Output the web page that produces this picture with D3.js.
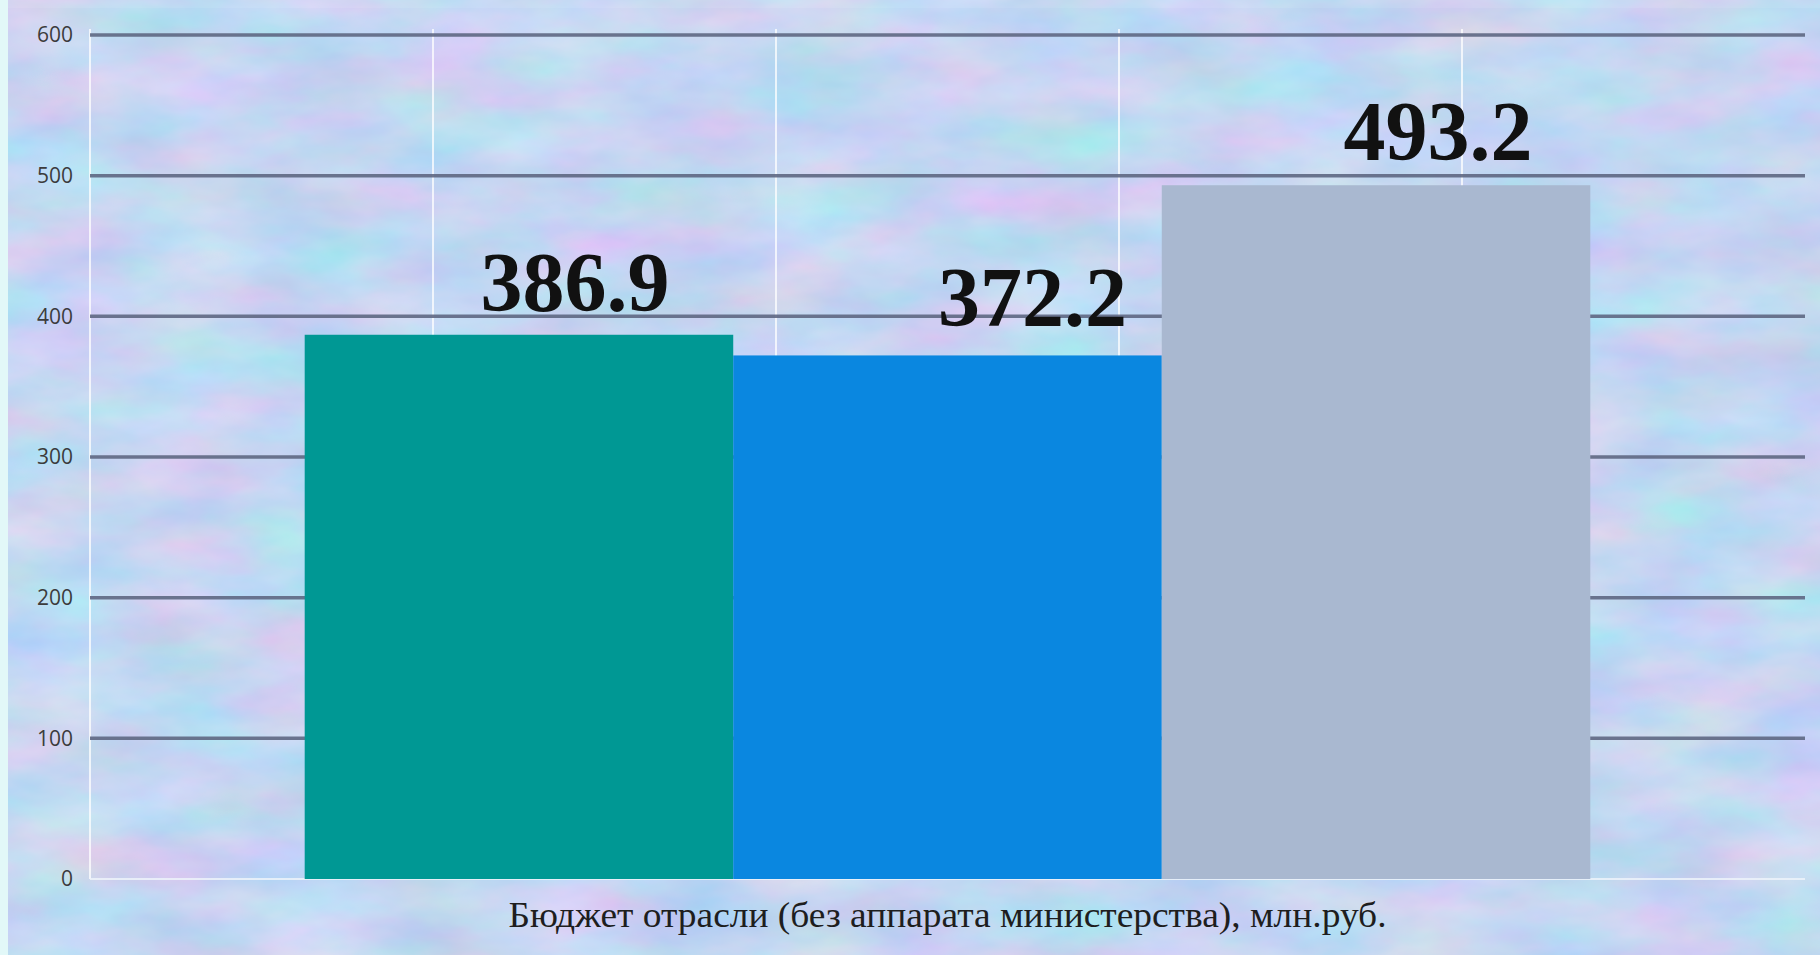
<!DOCTYPE html>
<html>
<head>
<meta charset="utf-8">
<script src="https://cdn.jsdelivr.net/npm/d3@7/dist/d3.min.js"></script>
<style>
  html, body { margin: 0; padding: 0; background: #eef9fb; }
  svg { display: block; }
</style>
</head>
<body>
<svg id="chart" width="1820" height="955"></svg>
<script>
// Data
const category = "Бюджет отрасли (без аппарата министерства), млн.руб.";
const series = ["s1", "s2", "s3"];
const values = [386.9, 372.2, 493.2];
const valueLabels = ["386.9", "372.2", "493.2"];
const yTicks = [0, 100, 200, 300, 400, 500, 600];

// Styling / layout
const colors = ["#009894", "#0a87e0", "#a9b8d0"];
const labelDx = [56, 85, 62];   // hand-placed label nudges from bar centre
const labelGap = [24, 29, 25];  // space between bar top and label baseline
const W = 1820, H = 955;
const plot = { left: 90, right: 1805, top: 35, bottom: 879 };

const svg = d3.select("#chart");
const defs = svg.append("defs");

// Mottled pastel backdrop
const f = defs.append("filter").attr("id", "mottle")
  .attr("x", 0).attr("y", 0).attr("width", W).attr("height", H)
  .attr("filterUnits", "userSpaceOnUse")
  .attr("color-interpolation-filters", "sRGB");
f.append("feTurbulence").attr("type", "fractalNoise")
  .attr("baseFrequency", "0.008 0.018").attr("numOctaves", 4).attr("seed", 11)
  .attr("result", "n");
f.append("feColorMatrix").attr("type", "matrix").attr("in", "n")
  .attr("values",
    "0.32 0 0 0 0.61 " +
    "-0.08 0.18 0 0 0.79 " +
    "0 0 0.1 0 0.9 " +
    "0 0 0 0 1");

const bg = svg.append("g");
bg.append("rect").attr("x", 0).attr("y", 0).attr("width", W).attr("height", H)
  .attr("fill", "#eef9fb");
bg.append("rect").attr("x", 8).attr("y", 8).attr("width", W - 8).attr("height", H - 8)
  .attr("fill", "#c7d7f2");
bg.append("rect").attr("x", 8).attr("y", 8).attr("width", W - 8).attr("height", H - 8)
  .attr("filter", "url(#mottle)").attr("opacity", 0.9);
bg.append("rect").attr("x", 0).attr("y", 0).attr("width", 8).attr("height", H)
  .attr("fill", "#e2f8f8");

// Scales
const y = d3.scaleLinear().domain([0, 600]).range([plot.bottom, plot.top]);
const x0 = d3.scaleBand().domain([category]).range([plot.left, plot.right])
  .paddingInner(0).paddingOuter(0.167);
const x1 = d3.scaleBand().domain(series).range([0, x0.bandwidth()]).padding(0);

// Faint vertical guide lines
const xv = d3.scaleLinear().domain([0, 5]).range([plot.left, plot.right]);
svg.append("g").selectAll("line").data(d3.range(0, 5)).join("line")
  .attr("x1", d => xv(d)).attr("x2", d => xv(d))
  .attr("y1", plot.top - 6).attr("y2", plot.bottom)
  .attr("stroke", "#ffffff").attr("stroke-width", 2).attr("opacity", 0.75);

// Horizontal gridlines
const grid = svg.append("g");
grid.selectAll("line").data(yTicks).join("line")
  .attr("x1", plot.left).attr("x2", plot.right)
  .attr("y1", d => y(d)).attr("y2", d => y(d))
  .attr("stroke", d => d === 0 ? "#eef4fb" : "#5f6883")
  .attr("stroke-width", d => d === 0 ? 2 : 3.5)
  .attr("opacity", d => d === 0 ? 0.85 : 0.9);

// Y axis labels
const yAxis = d3.axisLeft(y).tickValues(yTicks).tickSize(0).tickPadding(0);
const ga = svg.append("g").attr("transform", `translate(${plot.left - 17},0)`).call(yAxis);
ga.select(".domain").remove();
ga.selectAll("text")
  .attr("font-family", "'Open Sans', 'Noto Sans', sans-serif")
  .attr("font-size", 21).attr("fill", "#3c3c3c");

// Bars
const bars = svg.append("g").attr("transform", `translate(${x0(category)},0)`);
bars.selectAll("rect").data(values).join("rect")
  .attr("x", (d, i) => x1(series[i]))
  .attr("y", d => y(d))
  .attr("width", x1.bandwidth())
  .attr("height", d => y(0) - y(d))
  .attr("fill", (d, i) => colors[i]);

// Value labels
bars.selectAll("text").data(values).join("text")
  .attr("x", (d, i) => x1(series[i]) + x1.bandwidth() / 2 + labelDx[i])
  .attr("y", (d, i) => y(d) - labelGap[i])
  .attr("text-anchor", "middle")
  .attr("font-family", "'Liberation Serif', 'Times New Roman', serif")
  .attr("font-weight", "bold").attr("font-size", 84).attr("fill", "#111")
  .text((d, i) => valueLabels[i]);

// Category label
svg.append("text")
  .attr("x", x0(category) + x0.bandwidth() / 2)
  .attr("y", 927)
  .attr("text-anchor", "middle")
  .attr("font-family", "'Liberation Serif', 'Times New Roman', serif")
  .attr("font-size", 36).attr("fill", "#1e1e1e")
  .attr("textLength", 878).attr("lengthAdjust", "spacingAndGlyphs")
  .text(category);
</script>
</body>
</html>
